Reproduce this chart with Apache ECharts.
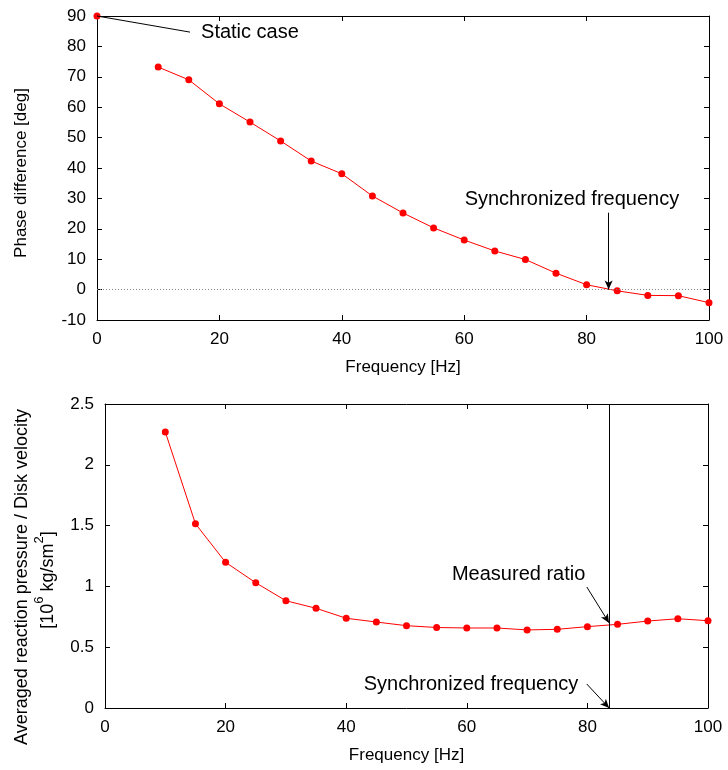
<!DOCTYPE html>
<html><head><meta charset="utf-8">
<script src="https://cdn.jsdelivr.net/npm/echarts@6/dist/echarts.min.js"></script>
<style>html,body{margin:0;padding:0;background:#fff}#c{width:728px;height:770px}</style>
</head><body><div id="c"></div>
<script>
// ---- data ----
const freq = [10,15,20,25,30,35,40,45,50,55,60,65,70,75,80,85,90,95,100];
const phaseDiff = [73.2,69.0,61.1,55.1,48.9,42.3,38.1,30.8,25.2,20.3,16.3,12.7,9.9,5.4,1.6,-0.4,-1.9,-2.0,-4.3];
const staticFreq = [0];
const staticPhase = [90];
const ratio = [2.27,1.515,1.198,1.03,0.882,0.82,0.738,0.707,0.677,0.662,0.658,0.658,0.642,0.647,0.669,0.688,0.715,0.734,0.718];
const syncFreq = 83.6;

const FONT = 'Liberation Sans, Arial, sans-serif';
const RED = '#ff0000';
const chart = echarts.init(document.getElementById('c'), null, {renderer:'canvas'});

function xAx(grid, showName, pos){
  return {
    type:'value', gridIndex:grid, min:0, max:100, interval:20, position:pos||'bottom',
    name: showName ? 'Frequency [Hz]' : '', nameLocation:'middle', nameGap:39,
    nameTextStyle:{fontFamily:FONT, fontSize:17, color:'#000'},
    axisLine:{show:true, onZero:false, lineStyle:{color:'#000', width:1}},
    axisTick:{show:true, inside:true, length:5, lineStyle:{color:'#000'}},
    axisLabel:{show: pos!=='top', margin:11, fontFamily:FONT, fontSize:17, color:'#000'},
    splitLine:{show:false}
  };
}
function yAx(grid, min, max, interval, pos){
  return {
    type:'value', gridIndex:grid, min:min, max:max, interval:interval, position:pos||'left',
    axisLine:{show:true, onZero:false, lineStyle:{color:'#000', width:1}},
    axisTick:{show:true, inside:true, length:5, lineStyle:{color:'#000'}},
    axisLabel:{show: pos!=='right', margin:11, fontFamily:FONT, fontSize:17, color:'#000'},
    splitLine:{show:false}
  };
}
const pair = (xs, ys) => xs.map((x,i)=>[x, ys[i]]);
const arrowLine = {color:'#000', width:1, type:'solid'};
const zeroLine = {color:'#888888', type:[1,2], width:1};

chart.setOption({
  animation:false,
  backgroundColor:'#fff',
  grid:[
    {left:97, right:19, top:16, height:304},
    {left:105, right:20, top:404, height:304}
  ],
  xAxis:[ xAx(0,true), xAx(0,false,'top'), xAx(1,true), xAx(1,false,'top') ],
  yAxis:[ yAx(0,-10,90,10), yAx(0,-10,90,10,'right'), yAx(1,0,2.5,0.5), yAx(1,0,2.5,0.5,'right') ],
  graphic:[
    {type:'text', x:21, y:173, rotation:Math.PI/2,
     style:{text:'Phase difference [deg]', fontFamily:FONT, fontSize:17, fill:'#000', align:'center', verticalAlign:'middle'}},
    {type:'text', x:22, y:577, rotation:Math.PI/2,
     style:{text:'Averaged reaction pressure / Disk velocity', fontFamily:FONT, fontSize:18, fill:'#000', align:'center', verticalAlign:'middle'}},
    {type:'text', x:45, y:580, rotation:Math.PI/2,
     style:{text:'{n|[10}{s|6}{n| kg/sm}{s|2}{n|]}', fontFamily:FONT, fill:'#000', align:'center', verticalAlign:'middle',
       rich:{ n:{fontFamily:FONT, fontSize:18, fill:'#000', verticalAlign:'bottom', lineHeight:24},
              s:{fontFamily:FONT, fontSize:13, fill:'#000', verticalAlign:'top', lineHeight:24} }}}
  ],
  series:[
    {
      type:'line', xAxisIndex:0, yAxisIndex:0, data:pair(freq, phaseDiff), clip:false,
      symbol:'circle', symbolSize:7, itemStyle:{color:RED}, lineStyle:{color:RED, width:1},
      markLine:{
        silent:true, symbol:['none','arrow'], symbolSize:[6,9], animation:false,
        label:{show:false},
        data:[
          [{coord:[0,90], symbol:'none'}, {coord:[15.2,84.7], symbol:'none'}],
          [{coord:[syncFreq,25.3]}, {coord:[syncFreq,0]}],
          [{coord:[0,0], symbol:'none', lineStyle:zeroLine, itemStyle:{color:'#888888'}}, {coord:[100,0], symbol:'none', lineStyle:zeroLine, itemStyle:{color:'#888888'}}]
        ],
        lineStyle:arrowLine
      },
      markPoint:{
        silent:true, symbol:'circle', symbolSize:0, animation:false,
        data:[
          {coord:[17.0,84.7], label:{show:true, formatter:'Static case', position:'inside', align:'left', verticalAlign:'middle', fontFamily:FONT, fontSize:20, color:'#000'}},
          {coord:[77.6,29.6], label:{show:true, formatter:'Synchronized frequency', position:'inside', align:'center', verticalAlign:'middle', fontFamily:FONT, fontSize:20, color:'#000'}}
        ]
      }
    },
    {
      type:'line', xAxisIndex:0, yAxisIndex:0, data:pair(staticFreq, staticPhase), clip:false,
      symbol:'circle', symbolSize:7, itemStyle:{color:RED}, lineStyle:{color:RED, width:1}
    },
    {
      type:'line', xAxisIndex:2, yAxisIndex:2, data:pair(freq, ratio), clip:false,
      symbol:'circle', symbolSize:7, itemStyle:{color:RED}, lineStyle:{color:RED, width:1},
      markLine:{
        silent:true, symbol:['none','arrow'], symbolSize:[6,9], animation:false,
        label:{show:false}, lineStyle:arrowLine,
        data:[
          [{coord:[syncFreq,0], symbol:'none'}, {coord:[syncFreq,2.5], symbol:'none'}],
          [{coord:[79.9,0.995]}, {coord:[syncFreq,0.70]}],
          [{coord:[79.9,0.197]}, {coord:[syncFreq,0]}]
        ]
      },
      markPoint:{
        silent:true, symbol:'circle', symbolSize:0, animation:false,
        data:[
          {coord:[68.6,1.10], label:{show:true, formatter:'Measured ratio', position:'inside', align:'center', verticalAlign:'middle', fontFamily:FONT, fontSize:20, color:'#000'}},
          {coord:[60.7,0.197], label:{show:true, formatter:'Synchronized frequency', position:'inside', align:'center', verticalAlign:'middle', fontFamily:FONT, fontSize:20, color:'#000'}}
        ]
      }
    }
  ]
});
</script></body></html>
